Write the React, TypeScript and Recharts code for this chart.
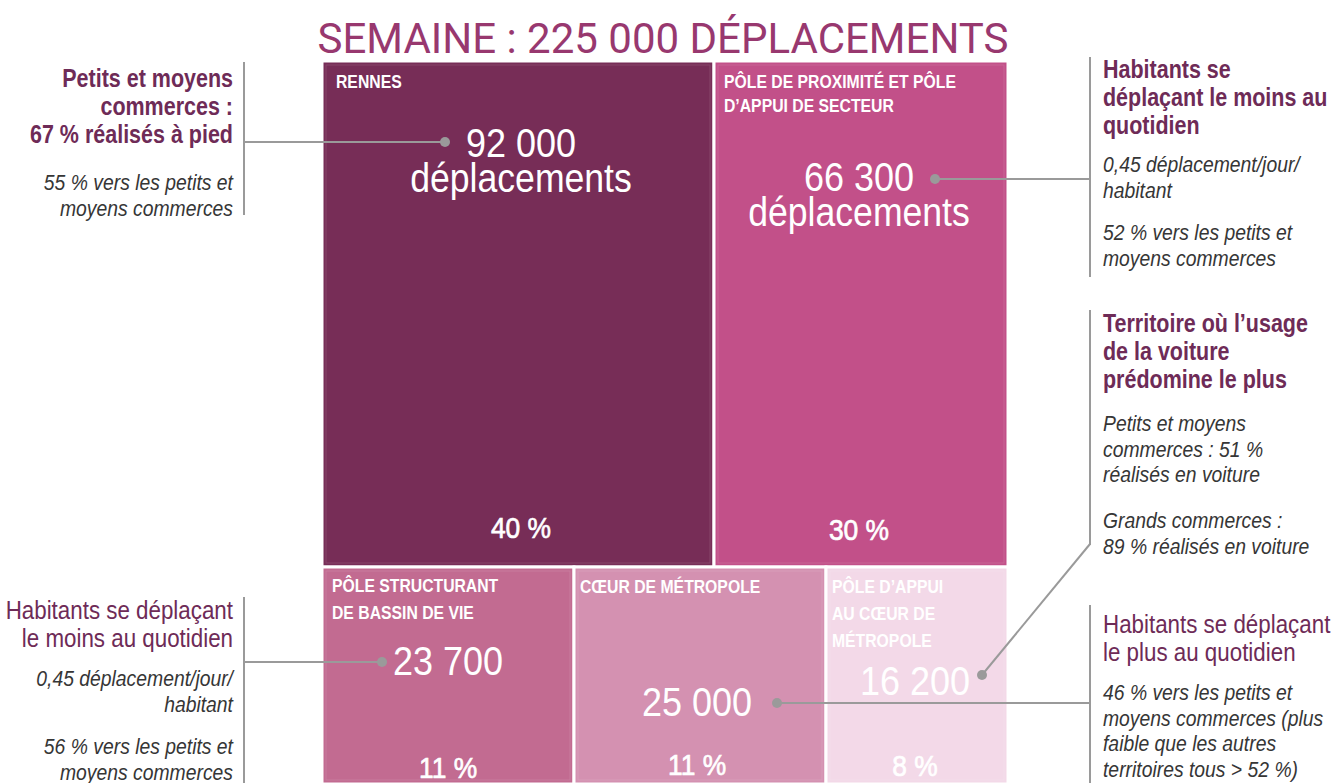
import React from 'react';
import { Treemap } from 'recharts';

// ---- data ----
const categories = [
  'RENNES',
  'PÔLE DE PROXIMITÉ ET PÔLE D’APPUI DE SECTEUR',
  'PÔLE STRUCTURANT DE BASSIN DE VIE',
  'CŒUR DE MÉTROPOLE',
  'PÔLE D’APPUI AU CŒUR DE MÉTROPOLE',
];
const categoryLines = [
  ['RENNES'],
  ['PÔLE DE PROXIMITÉ ET PÔLE', 'D’APPUI DE SECTEUR'],
  ['PÔLE STRUCTURANT', 'DE BASSIN DE VIE'],
  ['CŒUR DE MÉTROPOLE'],
  ['PÔLE D’APPUI', 'AU CŒUR DE', 'MÉTROPOLE'],
];
const trips = [92000, 66300, 23700, 25000, 16200];
const shares = [40, 30, 11, 11, 8];
const showUnit = [true, true, false, false, false];
const rowOf = [0, 0, 1, 1, 1];
const title = 'SEMAINE : 225 000 DÉPLACEMENTS';

const colors = ['#772d57', '#c25089', '#c26b91', '#d491b1', '#f3d9e8'];

const fmt = (n: number) => String(n).replace(/\B(?=(\d{3})+(?!\d))/g, ' ');

const treeData = [0, 1].map((r) => ({
  name: r === 0 ? 'haut' : 'bas',
  children: categories
    .map((c, i) => ({ name: c, size: shares[i], idx: i }))
    .filter((d) => rowOf[d.idx] === r),
}));

// ---- layout / style (not data) ----
const FONT = '"Liberation Sans", Arial, Helvetica, sans-serif';
const PURPLE = '#6e2b57';
const GREY_TXT = '#363636';
const LINE = '#9a9a9a';

// condensed text: Liberation Sans squeezed horizontally
const NT = ({ x, y, sx = 0.85, anchor = 'start', children, ...rest }: any) => (
  <text transform={`translate(${x} ${y}) scale(${sx} 1)`} x={0} y={0} textAnchor={anchor} fontFamily={FONT} {...rest}>
    {children}
  </text>
);

// per-cell text layout relative to the cell
const cellLayout = [
  { lx: 14, ly: 27, ls: 24, vdx: 3, vy: 96, uy: 131, py: 477 },
  { lx: 10, ly: 27, ls: 24, vdx: -2, vy: 130, uy: 165, py: 479 },
  { lx: 10, ly: 25, ls: 27, vdx: 0, vy: 108, uy: 0, py: 211 },
  { lx: 6, ly: 26, ls: 27, vdx: -3, vy: 149, uy: 0, py: 208 },
  { lx: 6, ly: 26, ls: 27, vdx: -2, vy: 128, uy: 0, py: 209 },
];

const CellContent = (props: any) => {
  const { x, y, width, height, depth, idx } = props;
  if (depth !== 2 || idx === undefined) return <g />;
  const L = cellLayout[idx];
  const cx = x + width / 2 + L.vdx;
  return (
    <g>
      <rect x={x} y={y} width={width} height={height} fill={colors[idx]} stroke="#ffffff" strokeWidth={3} />
      <rect x={x + 4} y={y + 4} width={Math.max(0, width - 8)} height={Math.max(0, height - 8)} fill="none" stroke="#ffffff" strokeOpacity={0.12} strokeWidth={1} />
      {categoryLines[idx].map((t, k) => (
        <NT key={k} x={x + L.lx} y={y + L.ly + k * L.ls} sx={0.83} fill="#fff" fontWeight="bold" fontSize={19}>
          {t}
        </NT>
      ))}
      <NT x={cx} y={y + L.vy} sx={0.9} anchor="middle" fill="#fff" fontSize={40}>
        {fmt(trips[idx])}
      </NT>
      {showUnit[idx] && (
        <NT x={cx} y={y + L.uy} sx={0.89} anchor="middle" fill="#fff" fontSize={40}>
          déplacements
        </NT>
      )}
      <NT x={cx} y={y + L.py} sx={0.88} anchor="middle" fill="#fff" stroke="#fff" strokeWidth={0.7} fontSize={30}>
        {shares[idx]} %
      </NT>
    </g>
  );
};

type Ann = { x: number; anchor: 'start' | 'end'; head: string[]; headY: number; bold: boolean; headSize: number; body: { lines: string[]; y: number }[] };

const annotations: Ann[] = [
  {
    x: 233, anchor: 'end', bold: true, headSize: 25, headY: 87,
    head: ['Petits et moyens', 'commerces :', '67 % réalisés à pied'],
    body: [{ lines: ['55 % vers les petits et', 'moyens commerces'], y: 190 }],
  },
  {
    x: 1103, anchor: 'start', bold: true, headSize: 25, headY: 78,
    head: ['Habitants se', 'déplaçant le moins au', 'quotidien'],
    body: [
      { lines: ['0,45 déplacement/jour/', 'habitant'], y: 172 },
      { lines: ['52 % vers les petits et', 'moyens commerces'], y: 240 },
    ],
  },
  {
    x: 1103, anchor: 'start', bold: true, headSize: 25, headY: 332,
    head: ['Territoire où l’usage', 'de la voiture', 'prédomine le plus'],
    body: [
      { lines: ['Petits et moyens', 'commerces  : 51 %', 'réalisés en voiture'], y: 431 },
      { lines: ['Grands commerces :', '89 % réalisés en voiture'], y: 528 },
    ],
  },
  {
    x: 233, anchor: 'end', bold: false, headSize: 26, headY: 619,
    head: ['Habitants se déplaçant', 'le moins au quotidien'],
    body: [
      { lines: ['0,45 déplacement/jour/', 'habitant'], y: 686 },
      { lines: ['56 % vers les petits et', 'moyens commerces'], y: 754 },
    ],
  },
  {
    x: 1103, anchor: 'start', bold: false, headSize: 26, headY: 633,
    head: ['Habitants se déplaçant', 'le plus au quotidien'],
    body: [{ lines: ['46 % vers les petits et', 'moyens commerces (plus', 'faible que les autres', 'territoires tous > 52 %)'], y: 700 }],
  },
];

const bars = [
  { x: 244, y1: 62, y2: 215 },
  { x: 1090, y1: 57, y2: 277 },
  { x: 1090, y1: 310, y2: 545 },
  { x: 244, y1: 597, y2: 783 },
  { x: 1090, y1: 605, y2: 783 },
];
const leaders = [
  { x1: 445, y1: 142, x2: 244, y2: 142 },
  { x1: 935, y1: 179, x2: 1090, y2: 179 },
  { x1: 982, y1: 675, x2: 1090, y2: 544 },
  { x1: 382, y1: 662, x2: 244, y2: 662 },
  { x1: 777, y1: 703, x2: 1090, y2: 703 },
];

export default function App() {
  return (
    <div style={{ position: 'absolute', left: 0, top: 0, width: 1332, height: 783, background: '#fff', overflow: 'hidden' }}>
      <div style={{ position: 'absolute', left: 322, top: 61 }}>
        <Treemap
          width={686}
          height={723}
          data={treeData}
          dataKey="size"
          nameKey="name"
          aspectRatio={1}
          isAnimationActive={false}
          content={<CellContent />}
        />
      </div>
      <svg width={1332} height={783} style={{ position: 'absolute', left: 0, top: 0, pointerEvents: 'none' }}>
        <text x={663} y={53} textAnchor="middle" fontFamily="Roboto, sans-serif" fontSize={42} fill="#98386f">
          {title}
        </text>
        {bars.map((b, i) => (
          <line key={'b' + i} x1={b.x} x2={b.x} y1={b.y1} y2={b.y2} stroke={LINE} strokeWidth={2} />
        ))}
        {leaders.map((l, i) => (
          <g key={'l' + i}>
            <line x1={l.x1} y1={l.y1} x2={l.x2} y2={l.y2} stroke={LINE} strokeWidth={2} />
            <circle cx={l.x1} cy={l.y1} r={5} fill={LINE} />
          </g>
        ))}
        {annotations.map((a, i) => (
          <g key={'a' + i}>
            {a.head.map((t, k) => (
              <NT key={k} x={a.x} y={a.headY + k * 28} anchor={a.anchor} sx={0.86} fontWeight={a.bold ? 'bold' : 'normal'} fontSize={a.headSize} fill={PURPLE}>
                {t}
              </NT>
            ))}
            {a.body.map((b, j) =>
              b.lines.map((t, k) => (
                <NT key={j + '-' + k} x={a.x} y={b.y + k * 25.5} anchor={a.anchor} sx={0.86} fontStyle="italic" fontSize={22.5} fill={GREY_TXT}>
                  {t}
                </NT>
              ))
            )}
          </g>
        ))}
      </svg>
    </div>
  );
}
